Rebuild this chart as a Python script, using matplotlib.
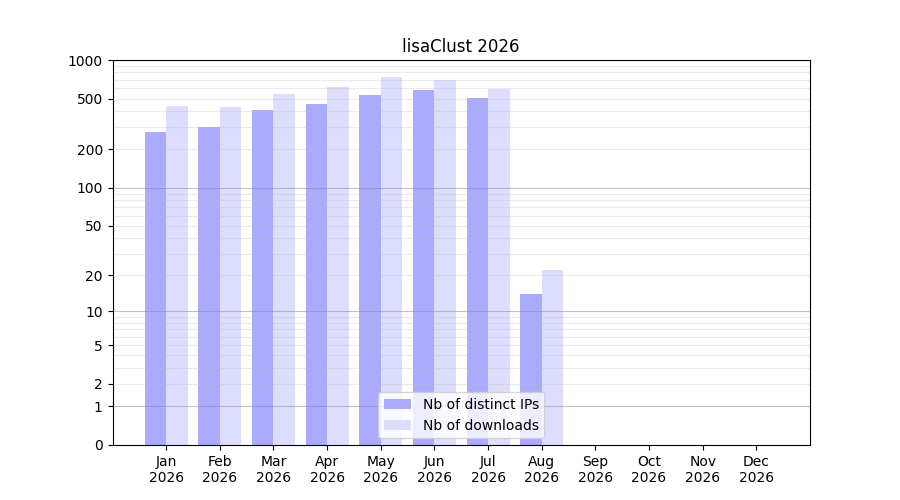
import numpy as np
import matplotlib
matplotlib.use("Agg")
import matplotlib.pyplot as plt
from matplotlib.ticker import FixedLocator, FixedFormatter

months = ["Jan", "Feb", "Mar", "Apr", "May", "Jun",
          "Jul", "Aug", "Sep", "Oct", "Nov", "Dec"]
year = "2026"
# values (0 for months with no data yet)
nb_ips = [273, 299, 406, 452, 532, 582, 504, 14, 0, 0, 0, 0]
nb_downloads = [436, 428, 542, 614, 736, 697, 596, 22, 0, 0, 0, 0]

y_ticks = [0, 1, 2, 5, 10, 20, 50, 100, 200, 500, 1000]


def fwd(v):
    return np.log10(np.maximum(np.asarray(v, dtype=float), 0) + 1)


def inv(v):
    return 10 ** np.asarray(v, dtype=float) - 1


fig, ax = plt.subplots(figsize=(9, 5), dpi=100)

x = np.arange(len(months))
w = 0.4
ax.bar(x - w / 2, nb_ips, width=w, color="#aaaaff", label="Nb of distinct IPs", zorder=1)
ax.bar(x + w / 2, nb_downloads, width=w, color="#ddddff", label="Nb of downloads", zorder=1)

ax.set_yscale("function", functions=(fwd, inv))
ax.set_ylim(0, 1000)
ax.set_xlim(-1, 12)

ax.yaxis.set_major_locator(FixedLocator(y_ticks))
ax.yaxis.set_major_formatter(FixedFormatter([str(t) for t in y_ticks]))
ax.yaxis.set_minor_locator(FixedLocator([]))

# grid lines drawn over the bars
major_lines = [1, 10, 100, 1000]
minor_lines = [m * d for d in (1, 10, 100) for m in range(2, 10)]
for v in minor_lines:
    ax.axhline(v, color="#bbbbbb", alpha=0.3, linewidth=0.8, zorder=2)
for v in major_lines:
    ax.axhline(v, color="#888888", alpha=0.5, linewidth=0.8, zorder=2)

ax.set_xticks(x)
ax.set_xticklabels([m + "\n" + year for m in months])

ax.set_title("lisaClust 2026")
ax.legend(loc="lower center")

fig.savefig("out.png")
